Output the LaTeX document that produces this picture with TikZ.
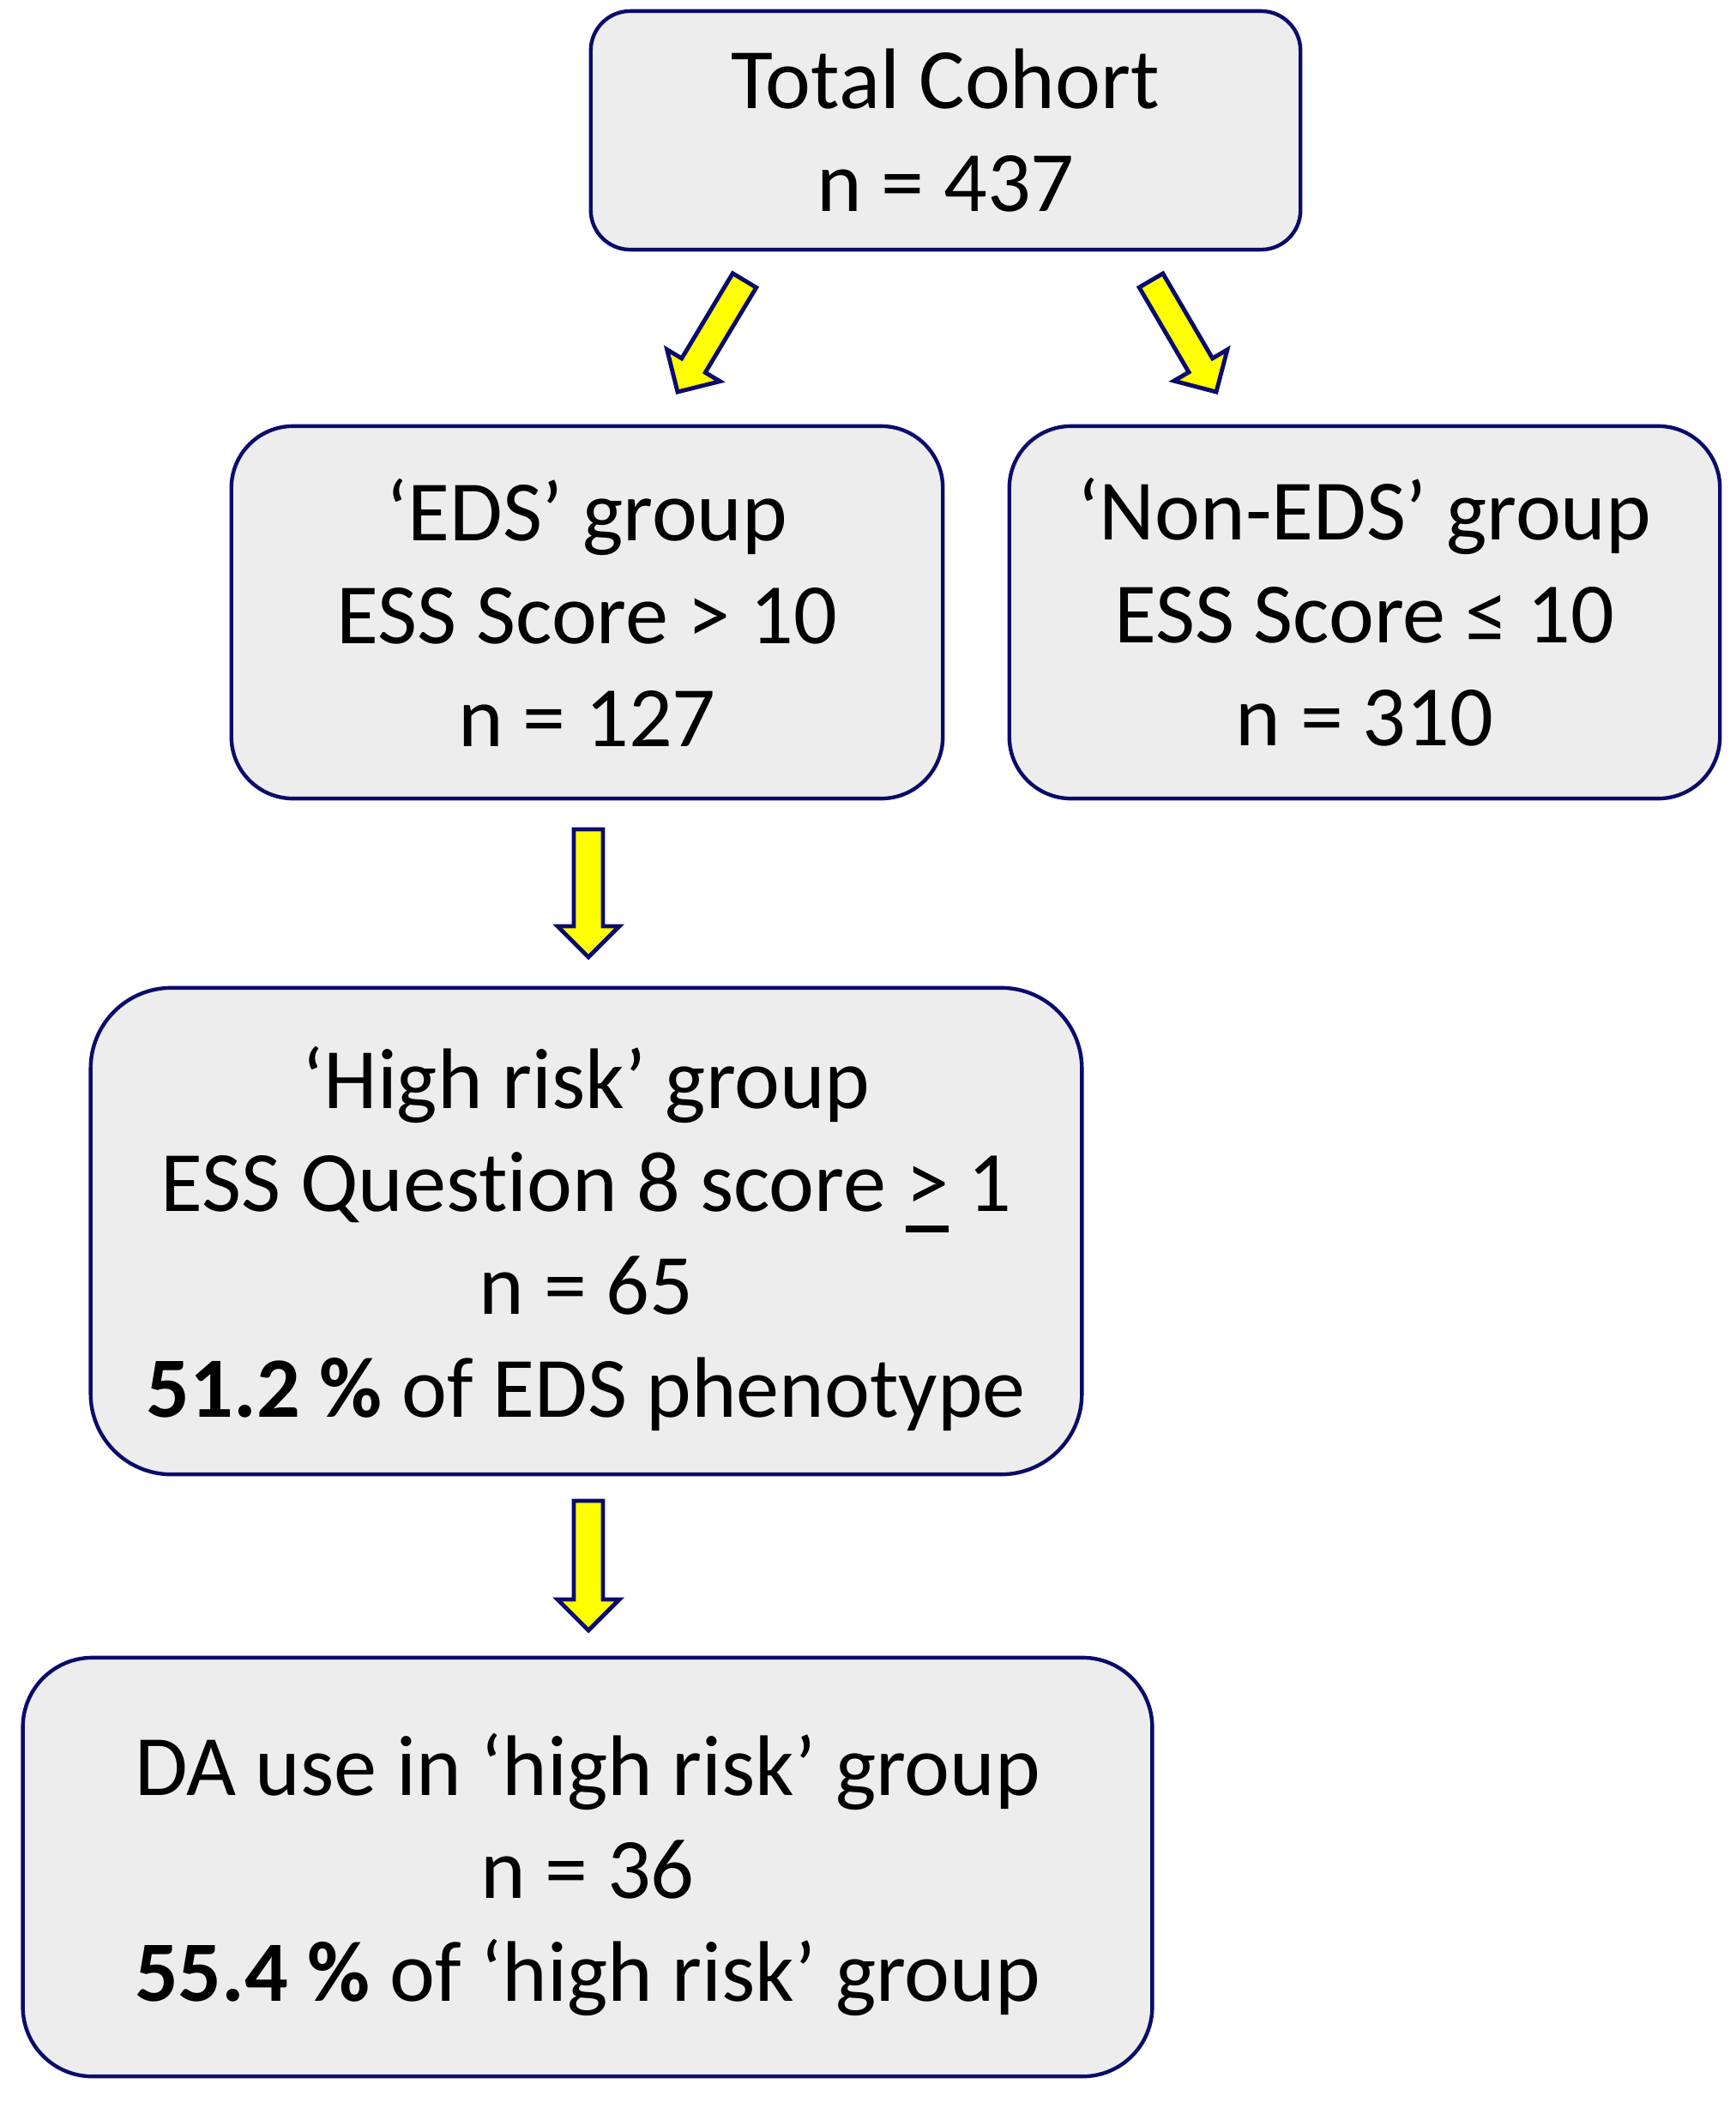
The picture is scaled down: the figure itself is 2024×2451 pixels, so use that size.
\documentclass[tikz,border=0pt]{standalone}
\usepackage{fontspec}
\setmainfont[Ligatures=NoCommon]{Carlito}
\usetikzlibrary{calc}
\definecolor{navy}{HTML}{0B0B6B}
\definecolor{boxfill}{HTML}{EDEDED}
\definecolor{arrowyellow}{HTML}{FFFF00}
\newcommand\ulgt{\sbox0{>}\rlap{\raisebox{-0.24em}{\rule{\wd0}{0.08em}}}\usebox0}
\tikzset{
  boxtext/.style={align=center, inner sep=0pt, font=\fontsize{28.5}{34.1}\selectfont},
  box/.style={draw=navy, line width=1.25pt, fill=boxfill, boxtext},
  blockarrow/.style={draw=navy, line width=1.4pt, fill=arrowyellow, line join=miter}
}
\newcommand\blockarr[5]{% #1 start, #2 tip, #3 half shaft, #4 half head, #5 head length
  \coordinate (hb) at ($(#2)!#5!(#1)$);
  \draw[blockarrow] ($(#1)!#3!90:(#2)$) -- ($(hb)!#3!90:(#2)$) -- ($(hb)!#4!90:(#2)$)
    -- (#2) -- ($(hb)!#4!-90:(#2)$) -- ($(hb)!#3!-90:(#2)$) -- ($(#1)!#3!-90:(#2)$) -- cycle;
}
\begin{document}
\begin{tikzpicture}[x=0.01cm,y=-0.01cm]
\useasboundingbox (0,0) rectangle (2024,2451);
\node[box, minimum width=8.27cm, minimum height=2.78cm, rounded corners=0.46cm] (top) at (1102.5,152)
  {Total Cohort\\n = 437};
\node[box, minimum width=8.29cm, minimum height=4.34cm, rounded corners=0.72cm] (eds) at (684.5,714)
  {‘EDS’ group\\ESS Score > 10\\n = 127};
\node[box, minimum width=8.28cm, minimum height=4.34cm, rounded corners=0.72cm] (noneds) at (1591,714)
  {‘Non-EDS’ group\\ESS Score ≤ 10\\n = 310};
\node[box, minimum width=11.55cm, minimum height=5.67cm, rounded corners=0.94cm] (high) at (683.5,1435.5) {};
\node[boxtext] (hightext) at ([yshift=-0.09cm]high.center)
  {‘High risk’ group\\ESS Question 8 score \ulgt{} 1\\n = 65\\\textbf{51.2 \%} of EDS phenotype};
\node[box, minimum width=13.16cm, minimum height=4.88cm, rounded corners=0.81cm] (da) at (685,2177) {};
\node[boxtext] (datext) at ([yshift=-0.09cm]da.center)
  {DA use in ‘high risk’ group\\n = 36\\\textbf{55.4 \%} of ‘high risk’ group};
% arrow anchor coordinates
\coordinate (a1s) at (868,327);
\coordinate (a1t) at (790,457);
\coordinate (a2s) at (1342,327);
\coordinate (a2t) at (1418,457);
\coordinate (a3s) at (686,967);
\coordinate (a3t) at (686,1116);
\coordinate (a4s) at (686,1750);
\coordinate (a4t) at (686,1901);
\blockarr{a1s}{a1t}{0.16cm}{0.36cm}{0.36cm}
\blockarr{a2s}{a2t}{0.16cm}{0.36cm}{0.36cm}
\blockarr{a3s}{a3t}{0.17cm}{0.36cm}{0.36cm}
\blockarr{a4s}{a4t}{0.17cm}{0.36cm}{0.36cm}
\end{tikzpicture}
\end{document}
